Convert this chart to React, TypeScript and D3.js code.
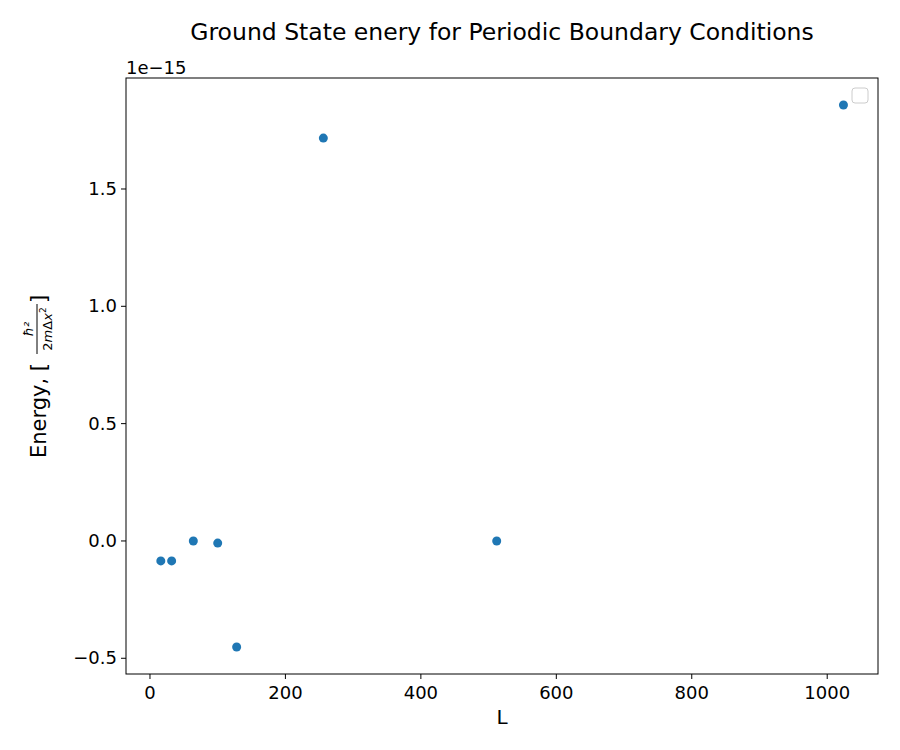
import React from "react";
import * as d3 from "d3";

const Ls = [16, 32, 64, 100, 128, 256, 512, 1024];
const energies = [-0.085, -0.085, 0.0, -0.009, -0.452, 1.717, 0.0, 1.858];
const xTicks = [0, 200, 400, 600, 800, 1000];
const yTicks = [-0.5, 0.0, 0.5, 1.0, 1.5];

export default function App() {
  const left = 126, right = 878, top = 78, bottom = 674;
  const x = d3.scaleLinear().domain([-35.4, 1075]).range([left, right]);
  const y = d3.scaleLinear().domain([-0.567, 1.973]).range([bottom, top]);
  const font = "DejaVu Sans";
  return (
    <svg width={900} height={750} style={{ position: "absolute", left: 0, top: 0 }} fontFamily={font}>
      <rect width={900} height={750} fill="white" />
      <text x={502} y={40} textAnchor="middle" fontSize={23.5}>Ground State enery for Periodic Boundary Conditions</text>
      <text x={126} y={74} fontSize={18}>1e−15</text>
      {xTicks.map(t => (
        <g key={t}>
          <line x1={x(t)} x2={x(t)} y1={bottom} y2={bottom + 5} stroke="black" />
          <text x={x(t)} y={bottom + 25} textAnchor="middle" fontSize={18}>{t}</text>
        </g>
      ))}
      {yTicks.map(t => (
        <g key={t}>
          <line x1={left - 5} x2={left} y1={y(t)} y2={y(t)} stroke="black" />
          <text x={left - 9} y={y(t) + 6} textAnchor="end" fontSize={18}>{t < 0 ? "−" + Math.abs(t).toFixed(1) : t.toFixed(1)}</text>
        </g>
      ))}
      <text x={502} y={724} textAnchor="middle" fontSize={20}>L</text>
      <g transform="translate(46,376) rotate(-90)">
        <text x={-82} y={0} fontSize={21}>Energy, [</text>
        <text x={47} y={-13} fontSize={13} textAnchor="middle" fontStyle="italic">ħ²</text>
        <line x1={22} x2={72} y1={-9} y2={-9} stroke="black" strokeWidth={1} />
        <text x={47} y={6} fontSize={13} textAnchor="middle"><tspan>2</tspan><tspan fontStyle="italic">m</tspan><tspan>Δ</tspan><tspan fontStyle="italic">x</tspan><tspan fontSize={9} dy={-6}>2</tspan></text>
        <text x={73} y={0} fontSize={21}>]</text>
      </g>
      {Ls.map((l, i) => (
        <circle key={i} cx={x(l)} cy={y(energies[i])} r={4.5} fill="#1f77b4" />
      ))}
      <rect x={left} y={top} width={right - left} height={bottom - top} fill="none" stroke="black" strokeWidth={1} />
      <rect x={852} y={88} width={16} height={15} rx={3} fill="white" stroke="#cccccc" />
    </svg>
  );
}
